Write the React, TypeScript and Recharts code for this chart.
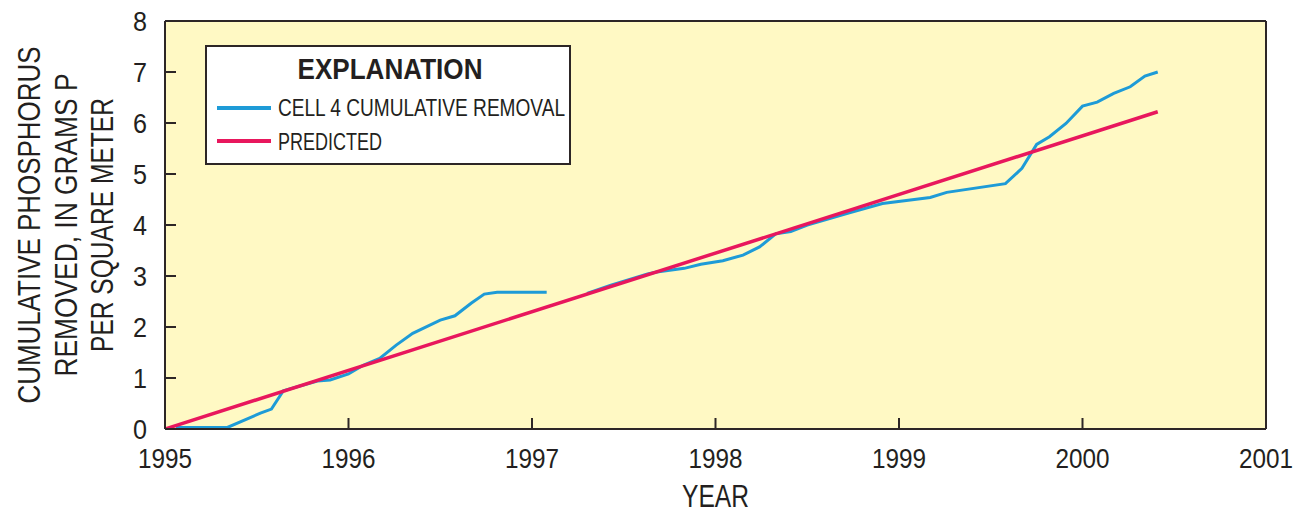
import React from 'react';
import { LineChart, Line, XAxis, YAxis, CartesianGrid, Legend } from 'recharts';

const FONT = "'Liberation Sans', Arial, sans-serif";
const TEXT = '#231F20';
const FRAME = '#2d2626';
const BLUE = '#1E9BD7';
const RED = '#E8175D';

const yearTicks = [1995, 1996, 1997, 1998, 1999, 2000, 2001];
const valueTicks = [0, 1, 2, 3, 4, 5, 6, 7, 8];

const cellYears = [
  1995.06, 1995.34, 1995.52, 1995.58, 1995.645, 1995.83, 1995.9, 1996.0, 1996.08, 1996.17,
  1996.26, 1996.35, 1996.5, 1996.58, 1996.67, 1996.74, 1996.81, 1997.08, 1997.2, 1997.3,
  1997.43, 1997.63, 1997.68, 1997.83, 1997.92, 1998.04, 1998.15, 1998.24, 1998.33, 1998.41,
  1998.5, 1998.72, 1998.91, 1999.17, 1999.26, 1999.58, 1999.67, 1999.75, 1999.82, 1999.91,
  2000.0, 2000.08, 2000.17, 2000.26, 2000.34, 2000.41,
];
const cellRemoval = [
  0.03, 0.03, 0.31, 0.39, 0.75, 0.94, 0.96, 1.08, 1.25, 1.385,
  1.645, 1.875, 2.135, 2.22, 2.47, 2.645, 2.68, 2.68, null, 2.66,
  2.82, 3.04, 3.08, 3.15, 3.23, 3.3, 3.41, 3.57, 3.83, 3.87,
  4.0, 4.23, 4.42, 4.54, 4.64, 4.81, 5.11, 5.58, 5.73, 5.99,
  6.33, 6.41, 6.58, 6.71, 6.92, 7.0,
];

const predictedYears = [1995, 2000.41];
const predictedValues = [0, 6.22];

const cellData = cellYears.map((year, i) => ({ year, value: cellRemoval[i] }));
const predictedData = predictedYears.map((year, i) => ({ year, value: predictedValues[i] }));

const yLabelLines = ['CUMULATIVE PHOSPHORUS', 'REMOVED, IN GRAMS P', 'PER SQUARE METER'];
const yLabelLengths = [357, 303, 254];
const yLabelX = [28, 65, 101];
const legendLengths = [287, 104];

const XTick = (props: any) => {
  const { x, y, payload } = props;
  return (
    <text
      x={x}
      y={y}
      dy="0.71em"
      textAnchor="middle"
      fontSize={28}
      fill={TEXT}
      fontFamily={FONT}
      textLength={54}
      lengthAdjust="spacingAndGlyphs"
    >
      {payload.value}
    </text>
  );
};

const YTick = (props: any) => {
  const { x, y, payload } = props;
  return (
    <text
      x={x}
      y={y}
      dy="0.355em"
      textAnchor="end"
      fontSize={28}
      fill={TEXT}
      fontFamily={FONT}
      textLength={14}
      lengthAdjust="spacingAndGlyphs"
    >
      {payload.value}
    </text>
  );
};

const YLabel = (props: any) => {
  const vb = props.viewBox || { x: 0, y: 21, width: 165, height: 408 };
  const cy = vb.y + vb.height / 2;
  return (
    <g>
      {yLabelLines.map((t, i) => (
        <text
          key={i}
          x={yLabelX[i]}
          y={cy}
          transform={`rotate(-90 ${yLabelX[i]} ${cy})`}
          textAnchor="middle"
          dy="0.36em"
          fontSize={32}
          fill={TEXT}
          fontFamily={FONT}
          textLength={yLabelLengths[i]}
          lengthAdjust="spacingAndGlyphs"
        >
          {t}
        </text>
      ))}
    </g>
  );
};

const XLabel = (props: any) => {
  const vb = props.viewBox || { x: 165, y: 429, width: 1101, height: 60 };
  return (
    <text
      x={vb.x + vb.width / 2}
      y={vb.y + 78}
      textAnchor="middle"
      fontSize={31}
      fill={TEXT}
      fontFamily={FONT}
      textLength={67}
      lengthAdjust="spacingAndGlyphs"
    >
      YEAR
    </text>
  );
};

const LegendBox = (props: any) => {
  const payload = props.payload || [];
  return (
    <svg width={366} height={120} style={{ display: 'block', fontFamily: FONT }}>
      <rect x={1} y={1} width={364} height={118} fill="#ffffff" stroke={FRAME} strokeWidth={2} />
      <text
        x={185}
        y={34}
        textAnchor="middle"
        fontWeight="bold"
        fontSize={29}
        fill={TEXT}
        textLength={185}
        lengthAdjust="spacingAndGlyphs"
      >
        EXPLANATION
      </text>
      {payload.map((p: any, i: number) => (
        <g key={i}>
          <line x1={12} x2={66} y1={63 + 33 * i} y2={63 + 33 * i} stroke={p.color} strokeWidth={4} />
          <text
            x={73}
            y={71 + 34 * i}
            fontSize={23}
            fill={TEXT}
            textLength={legendLengths[i]}
            lengthAdjust="spacingAndGlyphs"
          >
            {p.value}
          </text>
        </g>
      ))}
    </svg>
  );
};

export default function App() {
  return (
    <div style={{ position: 'absolute', left: 0, top: 0, width: 1298, height: 512, background: '#fff' }}>
      <LineChart
        width={1298}
        height={512}
        margin={{ top: 20, right: 31, bottom: 23, left: 0 }}
        style={{ fontFamily: FONT }}
      >
        <CartesianGrid fill="#FFF9C4" horizontal={false} vertical={false} stroke="none" />
        <XAxis
          dataKey="year"
          type="number"
          domain={[1995, 2001]}
          ticks={yearTicks}
          allowDataOverflow
          height={60}
          tickSize={-11}
          tickMargin={30}
          axisLine={{ stroke: FRAME, strokeWidth: 2 }}
          tickLine={{ stroke: FRAME, strokeWidth: 2 }}
          tick={<XTick />}
          label={{ content: <XLabel /> }}
        />
        <XAxis
          xAxisId="top"
          orientation="top"
          dataKey="year"
          type="number"
          domain={[1995, 2001]}
          ticks={yearTicks}
          allowDataOverflow
          height={1}
          tickSize={-11}
          axisLine={{ stroke: FRAME, strokeWidth: 2 }}
          tickLine={{ stroke: FRAME, strokeWidth: 2 }}
          tick={false}
        />
        <YAxis
          type="number"
          domain={[0, 8]}
          ticks={valueTicks}
          allowDataOverflow
          width={165}
          tickSize={-11}
          tickMargin={29}
          axisLine={{ stroke: FRAME, strokeWidth: 2 }}
          tickLine={{ stroke: FRAME, strokeWidth: 2 }}
          tick={<YTick />}
          label={{ content: <YLabel /> }}
        />
        <YAxis
          yAxisId="right"
          orientation="right"
          type="number"
          domain={[0, 8]}
          ticks={valueTicks}
          allowDataOverflow
          width={1}
          tickSize={-13}
          axisLine={{ stroke: FRAME, strokeWidth: 2 }}
          tickLine={{ stroke: FRAME, strokeWidth: 2 }}
          tick={false}
        />
        <Legend
          layout="horizontal"
          verticalAlign="middle"
          align="center"
          wrapperStyle={{ left: 205, top: 45, width: 366, height: 120, bottom: 'auto' }}
          content={<LegendBox />}
        />
        <Line
          name="CELL 4 CUMULATIVE REMOVAL"
          data={cellData}
          dataKey="value"
          type="linear"
          stroke={BLUE}
          strokeWidth={3}
          dot={false}
          activeDot={false}
          connectNulls={false}
          isAnimationActive={false}
        />
        <Line
          name="PREDICTED"
          data={predictedData}
          dataKey="value"
          type="linear"
          stroke={RED}
          strokeWidth={3.5}
          dot={false}
          activeDot={false}
          isAnimationActive={false}
        />
      </LineChart>
    </div>
  );
}
